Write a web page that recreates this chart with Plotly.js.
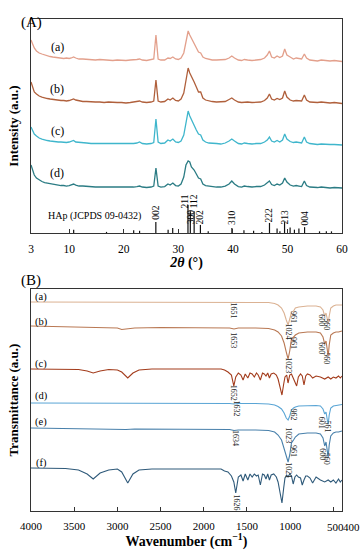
<!DOCTYPE html>
<html><head><meta charset="utf-8">
<script src="https://cdn.plot.ly/plotly-3.0.1.min.js"></script>
<style>html,body{margin:0;padding:0;background:#fff}#chart{width:364px;height:550px}</style>
</head><body><div id="chart"></div>
<script>
// ---------- XRD data (2θ in degrees, intensity in a.u.) ----------
const xrdX = [3,3.3,3.6,4,4.5,5,5.5,6,6.5,7,
  7.5,8,8.5,9,9.5,10,10.4,10.8,11.2,11.8,
  12.5,13.2,14,14.8,15.6,16.4,17.2,18,18.8,19.6,
  20.4,21.2,21.8,22.4,22.9,23.4,24.2,25,25.5,25.9,
  26.3,26.8,27.5,28.1,28.5,29,29.5,30,30.5,31,
  31.4,31.8,32.1,32.4,32.9,33.3,33.7,34.1,34.5,35,
  35.6,36.2,37,37.8,38.6,39.3,39.8,40.3,41,41.6,
  42.1,42.7,43.5,44.3,45.1,45.8,46.3,46.7,47.1,47.6,
  48.1,48.6,49.1,49.5,49.9,50.5,51.1,51.6,52.1,52.6,
  53.1,53.5,54.1,54.8,55.5,56.2,57,57.8,58.6,59.3,
  60];
const xrdA = [22,17,14,11,9,8,7,6,5.5,5,
  4.5,4.5,4,3.5,4,3.5,4,5,4,3,
  3,2.5,2.5,2,2.5,2,2,1.5,2,1.5,
  1.5,2,2,2.5,3,2,1.5,2,3,27,
  3,2,2,4,3.5,5,3,2.5,4,9,
  20,31,27,24,19,14,10,9,5,3.5,
  2.5,2,2,2,2.5,4,6,4,2,1.5,
  2.5,2,1.5,2,2.5,4,7,11,5,4,
  6,4.5,6,13,7,5,3,4,3.5,3,
  8,4,2,1.5,1,2,1.5,1,1.5,1,
  0.5];
const xrdB = [22,16,12,10,8,7,6,5.5,5,4.5,
  4,4,3.5,3.5,3,3.5,4,5,4,3,
  2.5,2.5,2,2,2,1.5,2,1.5,1.5,1.5,
  1,1.5,2,2.5,3,2,1.5,2,3,24,
  3,2,2.5,5,4,6,3.5,3,5,11,
  24,36,31,28,22,17,12,12,6,4,
  3,2.5,2,2,2.5,4.5,6,4,2,1.5,
  2,2,1.5,2,2,3.5,6,10,5,4,
  5.5,4.5,6,13,7,4,3,3.5,3,3,
  9,4,2,1.5,1.5,2,1.5,1,1.5,1,
  0.5];
const xrdC = [19,15,12,10,8,7,6,5.5,5,4.5,
  4.5,4,4,3.5,3.5,4,4.5,5.5,4,3.5,
  3,3,2.5,2.5,2.5,2,2.5,2,2,2,
  2,2,2.5,3,4,2.5,2,2.5,3.5,27,
  4,2.5,3,6,5,7,4,3.5,5,11,
  24,35,30,26,21,16,12,11,6,4,
  3,2.5,2.5,2,3,5,7,5,2.5,2,
  3,2.5,2,2.5,2.5,4,6,9,5,4,
  5.5,4,6,12,7,4.5,3.5,4,3.5,3,
  9,4,2.5,2,1.5,2,1.5,1.5,1.5,1,
  1];
const xrdD = [24,18,14,11,9,7.5,6.5,6,5,4.5,
  4,4,3.5,3.5,3,3.5,4,5,4,3,
  3,2.5,2,2,2,2,1.5,1.5,1.5,1.5,
  1.5,1.5,2,2.5,3,2,1.5,2,3,21,
  3,2,2.5,5,4,6,3.5,3,5,12,
  24,28,27,22,19,15,11,10,5,3.5,
  3,2.5,2,2,3,5,8,5,2.5,2,
  3,2.5,2,2.5,2.5,4,6,8,4.5,3.5,
  5,4,6,11,7,4,3,3.5,3,2.5,
  8,3.5,2,1.5,1.5,2,1.5,1,1.5,1,
  1];
const xrdNames = ['(a)','(b)','(c)','(d)'];
const xrdTicks = [3,10,20,30,40,50,60];

// HAp reference pattern (JCPDS 09-0432)
const refPos = [10.82,16.84,21.82,22.90,25.88,28.13,28.97,31.77,32.20,32.90,34.05,35.48,39.82,42.03,43.80,45.31,46.71,48.10,48.62,49.47,50.49,51.28,52.10,53.14,55.88,57.13,58.07];
const refInt = [12,4,10,8,39,12,18,100,78,78,29,6,18,10,8,4,36,16,6,39,20,12,16,21,6,6,6];
const refLabels = ['002','211','300','112','202','310','222','213','004'];
const refLabelPos = [25.88,31.77,32.90,32.20,34.05,39.82,46.71,49.47,53.14];

// ---------- FTIR data (wavenumber in cm-1, transmittance change in a.u.) ----------
const wnHAp = [4000,3700,3400,3200,3000,2950,2900,2800,2500,2200,
  2000,1800,1700,1650,1600,1400,1250,1180,1140,1100,
  1070,1045,1024,1005,985,961,940,900,800,700,
  650,620,600,585,570,560,548,530,500,470,
  440,400];
const ftA = [0,0,0,0,0,0,0,0,0,0,
  0,0,0,-0.5,0,0,-0.5,-1.5,-3,-6,
  -11,-18,-23,-17,-10,-9,-6,-5,-4,-4,
  -5,-8,-14,-11,-17,-21,-14,-6,-4,-3,
  -3,-3];
const ftB = [1,0.5,0,-0.5,-1,-2.5,-2,-1,-0.5,-0.5,
  -0.5,-1,-1,-2,-1,-1,-1.5,-3,-5,-9,
  -16,-25,-32,-24,-12,-10,-8,-6,-5,-5,
  -6,-10,-17,-14,-24,-29,-18,-8,-6,-5,
  -5,-4];
const ftD = [0,0,0,0,-0.3,-0.3,-0.3,-0.3,-0.5,-0.5,
  -0.5,-0.5,-0.5,-1,-0.5,-0.5,-1,-2,-3.5,-6,
  -10,-15,-17,-13,-7,-5,-4,-3,-2.5,-2.5,
  -3,-6,-11,-9,-17,-21,-12,-5,-3,-2.5,
  -2,-1.5];
const ftE = [0,-0.5,-0.5,-1,-1.5,-1.5,-1.5,-1,-1,-1,
  -1,-1.5,-1.5,-2.5,-2,-2,-2.5,-4,-7,-12,
  -20,-29,-34,-27,-15,-12,-9,-6,-5,-5,
  -6,-10,-18,-14,-24,-29,-17,-8,-5,-4,
  -4,-3];
const wnPoly = [4000,3800,3600,3450,3350,3280,3200,3100,3000,2950,
  2880,2820,2750,2600,2400,2200,2000,1800,1760,1720,
  1680,1652,1630,1600,1570,1545,1520,1490,1465,1440,
  1415,1390,1370,1345,1320,1300,1280,1260,1240,1220,
  1190,1160,1140,1110,1095,1075,1060,1040,1025,1005,
  985,965,945,925,905,880,860,840,820,800,
  770,740,700,650,600,560,530,500,470,440,
  420,400];
const ftC = [0,0,0,-0.5,-2,-4,-2,-0.5,-1,-3,
  -9,-4,-1,0,0,0,0,0,-1,-3,
  -6,-17,-8,-4,-6,-11,-5,-9,-4,-5,
  -8,-4,-6,-11,-4,-5,-7,-4,-9,-5,
  -4,-6,-10,-20,-26,-15,-8,-6,-14,-6,
  -5,-9,-14,-17,-8,-5,-7,-16,-7,-5,
  -6,-9,-7,-8,-10,-8,-10,-8,-9,-7,
  -9,-7];
const ftF = [0,0,-0.5,-2,-6,-11,-5,-2,-1,-4,
  -15,-6,-2,-1,-1,-1,-1,-1,-3,-4,
  -8,-14,-25,-9,-7,-13,-6,-12,-6,-9,
  -6,-8,-7,-17,-6,-7,-11,-6,-12,-7,
  -6,-9,-14,-30,-35,-20,-10,-7,-9,-6,
  -8,-16,-9,-7,-9,-10,-17,-12,-8,-8,
  -10,-15,-9,-12,-14,-12,-14,-12,-15,-11,
  -14,-12];
const ftNames = ['(a)','(b)','(c)','(d)','(e)','(f)'];
const ftTicks = [4000,3500,3000,2500,2000,1500,1000,500,400];
// peak labels per spectrum: [text, wavenumber]
const peaksA = [['1651',1651],['1024',1024],['961',961],['600',600],['560',560]];
const peaksB = [['1653',1653],['1023',1023],['961',961],['600',600],['560',560]];
const peaksC = [['1652',1652]];
const peaksD = [['1632',1632],['1023',1023],['962',962],['601',601],['561',561]];
const peaksE = [['1634',1634],['1021',1021],['961',961],['600',600],['560',560]];
const peaksF = [['1626',1626]];

// ---------- styling / placement ----------
const FONT = 'Liberation Serif, "Times New Roman", serif';
const xrdColors = ['#e3a08c','#b0603c','#3fb6cc','#2b7c84'];
const xrdOffsets = [171,129,87,44];
const xrdLabelY = [186,144,102,60];
const ftColors = ['#dbb293','#b97853','#a33c1c','#5aa5d5','#4880ab','#2f5a7a'];
const ftOffsets = [209,184,142,108,83,43];
const ftLabelY = [214,189.5,147,115,88.5,47.5];
const stickScale = 0.28;
const peakY = [
  [200.5,179.5,194.5,191,187],
  [171,145.5,168.5,163,153],
  [118.5],
  [103,75.5,96,88.5,85],
  [72.5,40.5,60.5,57,52.5],
  [8.5]
];
const peakXShift = {'600':-3,'601':-3,'560':-1.5,'561':-1.5};

const traces = [];
[xrdA,xrdB,xrdC,xrdD].forEach((arr,i)=>{
  traces.push({type:'scatter',mode:'lines',x:xrdX,y:arr.map(v=>v+xrdOffsets[i]),
    xaxis:'x',yaxis:'y',line:{color:xrdColors[i],width:1.3},hoverinfo:'skip',name:xrdNames[i]});
});
const sx=[], sy=[];
refPos.forEach((p,i)=>{sx.push(p,p,null); sy.push(0,refInt[i]*stickScale,null);});
traces.push({type:'scatter',mode:'lines',x:sx,y:sy,xaxis:'x',yaxis:'y',
  line:{color:'#111',width:1.2},hoverinfo:'skip',name:'HAp'});

const ftSets = [[wnHAp,ftA],[wnHAp,ftB],[wnPoly,ftC],[wnHAp,ftD],[wnHAp,ftE],[wnPoly,ftF]];
ftSets.forEach((s,i)=>{
  traces.push({type:'scatter',mode:'lines',x:s[0],y:s[1].map(v=>v+ftOffsets[i]),
    xaxis:'x2',yaxis:'y2',line:{color:ftColors[i],width:1.1},hoverinfo:'skip',name:ftNames[i]});
});

const ann = [];
ann.push({xref:'paper',yref:'paper',x:-0.039,y:1.0142,text:'(A)',showarrow:false,font:{family:FONT,size:15,color:'#000'}});
ann.push({xref:'paper',yref:'paper',x:-0.039,y:0.4695,text:'(B)',showarrow:false,font:{family:FONT,size:15,color:'#000'}});
xrdNames.forEach((n,i)=>ann.push({xref:'x',yref:'y',x:7.8,y:xrdLabelY[i],text:n,showarrow:false,font:{family:FONT,size:12,color:'#000'}}));
ann.push({xref:'x',yref:'y',x:14.7,y:17,text:'HAp (JCPDS 09-0432)',showarrow:false,font:{family:FONT,size:10,color:'#000'}});
const refLabelY = [21,32,16,32,16,16,18,16,15];
const refLabelShift = [0,-2.5,-3,4,0,0,0,0,0];
refLabels.forEach((t,i)=>ann.push({xref:'x',yref:'y',x:refLabelPos[i],y:refLabelY[i],text:t,textangle:-90,
  showarrow:false,xshift:refLabelShift[i],font:{family:FONT,size:9.5,color:'#000'}}));
ftNames.forEach((n,i)=>ann.push({xref:'x2',yref:'y2',x:3880,y:ftLabelY[i],text:n,showarrow:false,font:{family:FONT,size:10.5,color:'#000'}}));
[peaksA,peaksB,peaksC,peaksD,peaksE,peaksF].forEach((list,i)=>{
  list.forEach((p,j)=>ann.push({xref:'x2',yref:'y2',x:p[1],y:peakY[i][j],text:p[0],textangle:90,showarrow:false,
    xshift:(peakXShift[p[0]]||0),font:{family:FONT,size:8,color:'#222'}}));
});
// the two closely spaced FTIR tick labels (500, 400) are set side by side, as in the figure
const crowded = {500:2, 400:9};
Object.keys(crowded).forEach(v=>ann.push({xref:'x2',yref:'paper',x:Number(v),y:0,yanchor:'top',yshift:-8,
  xshift:crowded[v],text:String(v),showarrow:false,font:{family:FONT,size:11,color:'#000'}}));

const axBase = {showgrid:false,zeroline:false,showline:true,mirror:true,linecolor:'#333',linewidth:1};
const layout = {
  width:364,height:550,margin:{l:31,r:22,t:19,b:39},
  paper_bgcolor:'#fff',plot_bgcolor:'#fff',showlegend:false,
  font:{family:FONT,color:'#000'},
  xaxis:Object.assign({},axBase,{domain:[0,1],anchor:'y',range:[3,60],tickvals:xrdTicks,
    ticks:'inside',ticklen:4,tickcolor:'#333',tickangle:0,tickfont:{family:FONT,size:11.5,color:'#000'},ticklabelstandoff:5,
    title:{text:'<b><i>2θ</i> (°)</b>',font:{family:FONT,size:14,color:'#000'},standoff:1}}),
  yaxis:Object.assign({},axBase,{domain:[0.565,1],anchor:'x',range:[0,214],showticklabels:false,ticks:'',
    title:{text:'<b>Intensity (a.u.)</b>',font:{family:FONT,size:13,color:'#000'},standoff:8}}),
  xaxis2:Object.assign({},axBase,{domain:[0,1],anchor:'y2',range:[4000,400],
    tickvals:ftTicks, ticktext:ftTicks.map(v=>(v in crowded)?'':String(v)),
    ticks:'inside',ticklen:4,tickcolor:'#333',tickangle:0,tickfont:{family:FONT,size:11,color:'#000'},ticklabelstandoff:5,
    title:{text:'<b>Wavenumber (cm<sup>−1</sup>)</b>',font:{family:FONT,size:14,color:'#000'},standoff:3}}),
  yaxis2:Object.assign({},axBase,{domain:[0,0.4512],anchor:'x2',range:[0,222],showticklabels:false,ticks:'',
    title:{text:'<b>Transmittance (a.u.)</b>',font:{family:FONT,size:13,color:'#000'},standoff:8}}),
  annotations:ann
};
Plotly.newPlot('chart',traces,layout,{staticPlot:true,displayModeBar:false});
</script></body></html>
